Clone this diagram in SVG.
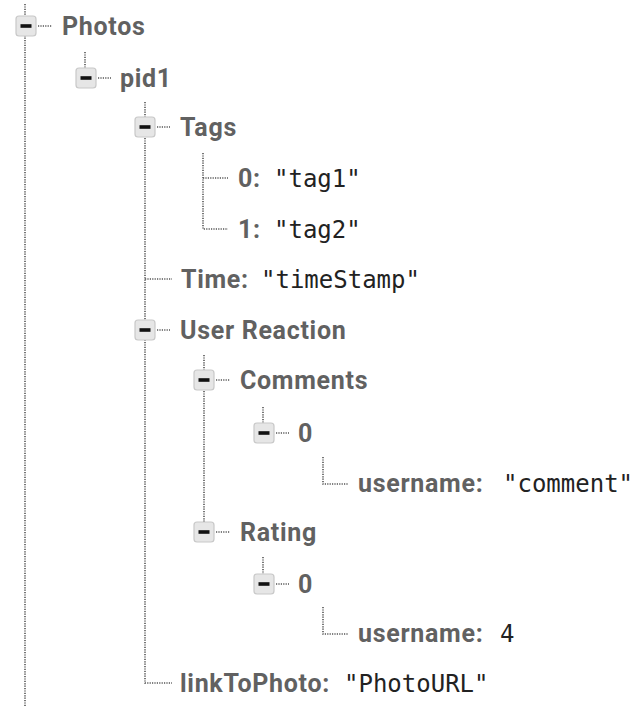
<svg xmlns="http://www.w3.org/2000/svg" width="640" height="706" viewBox="0 0 640 706">
<style>
.bg{fill:#ffffff}
.dot{stroke:#555;stroke-width:1.6;stroke-dasharray:1.2 1.2;fill:none}
.box{fill:#e6e6e6;stroke:#c8c8c8;stroke-width:1.2}
.minus{fill:#111}
.k{font-family:Roboto,"Liberation Sans",sans-serif;font-weight:bold;font-size:25px;letter-spacing:0.7px;fill:#616161}
.v{font-family:"DejaVu Sans Mono","Liberation Mono",monospace;font-size:24px;fill:#222}
</style>
<defs>
<g id="tog">
<rect class="box" x="-10" y="-10" width="20" height="20" rx="3"/>
<rect class="minus" x="-5.5" y="-1.8" width="11" height="3.6"/>
</g>
</defs>
<rect class="bg" x="0" y="0" width="640" height="706"/>
<g id="connectors">
<path class="dot" d="M25,4 V706"/>
<path class="dot" d="M38,26 H52"/>
<path class="dot" d="M85,52 V78"/>
<path class="dot" d="M98,78 H111"/>
<path class="dot" d="M145,102 V683 H172"/>
<path class="dot" d="M157,127 H170"/>
<path class="dot" d="M203,153 V229 H228"/>
<path class="dot" d="M203,178 H228"/>
<path class="dot" d="M145,279 H172"/>
<path class="dot" d="M157,330 H170"/>
<path class="dot" d="M204,355 V532"/>
<path class="dot" d="M216,380 H230"/>
<path class="dot" d="M263,407 V433"/>
<path class="dot" d="M276,433 H289"/>
<path class="dot" d="M323,457 V484 H348"/>
<path class="dot" d="M216,532 H230"/>
<path class="dot" d="M263,557 V584"/>
<path class="dot" d="M276,584 H289"/>
<path class="dot" d="M323,607 V634 H348"/>
</g>
<g id="photos"><use href="#tog" x="26" y="26"/><text class="k" x="62" y="35">Photos</text></g>
<g id="pid1"><use href="#tog" x="86" y="78"/><text class="k" x="120" y="87">pid1</text></g>
<g id="tags"><use href="#tog" x="145" y="127"/><text class="k" x="180" y="136">Tags</text></g>
<g id="tag0"><text class="k" x="238" y="187">0:</text><text class="v" x="274" y="187">"tag1"</text></g>
<g id="tag1"><text class="k" x="238" y="238">1:</text><text class="v" x="274" y="238">"tag2"</text></g>
<g id="time"><text class="k" x="181" y="288">Time:</text><text class="v" x="261" y="288">"timeStamp"</text></g>
<g id="userReaction"><use href="#tog" x="145" y="330"/><text class="k" x="180" y="339">User Reaction</text></g>
<g id="comments"><use href="#tog" x="204" y="380"/><text class="k" x="240" y="389">Comments</text></g>
<g id="comment0"><use href="#tog" x="264" y="433"/><text class="k" x="298" y="442">0</text></g>
<g id="commentUser"><text class="k" x="358" y="492">username:</text><text class="v" x="503" y="492">"comment"</text></g>
<g id="rating"><use href="#tog" x="204" y="532"/><text class="k" x="240" y="541">Rating</text></g>
<g id="rating0"><use href="#tog" x="264" y="584"/><text class="k" x="298" y="593">0</text></g>
<g id="ratingUser"><text class="k" x="358" y="642">username:</text><text class="v" x="500" y="642">4</text></g>
<g id="link"><text class="k" x="180" y="692">linkToPhoto:</text><text class="v" x="344" y="692">"PhotoURL"</text></g>
</svg>
